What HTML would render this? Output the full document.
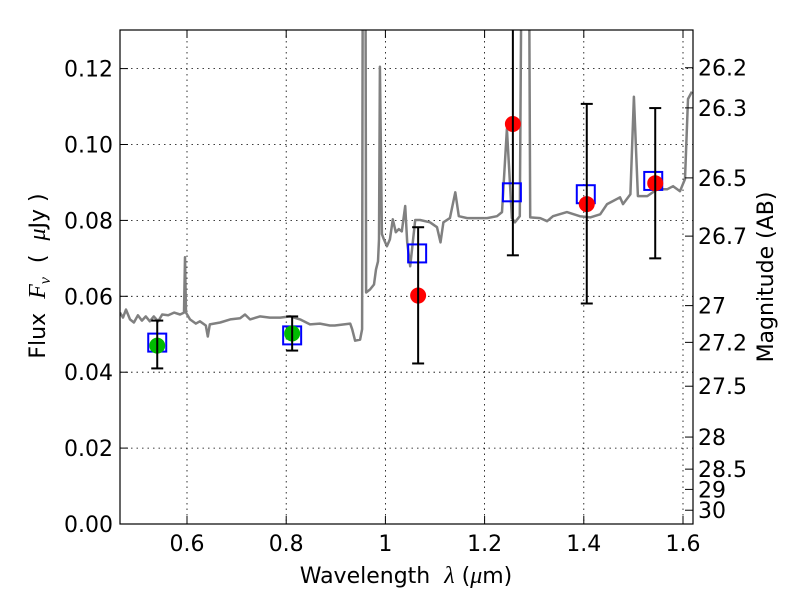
<!DOCTYPE html>
<html><head><meta charset="utf-8"><style>
html,body{margin:0;padding:0;background:#fff;}
svg{display:block;font-family:"DejaVu Sans","Liberation Sans",sans-serif;}
.m{font-family:"Liberation Serif","DejaVu Serif",serif;font-style:italic;}
</style></head><body>
<svg id="chart" width="800" height="600" viewBox="0 0 800 600" xmlns="http://www.w3.org/2000/svg">
<defs><clipPath id="clip"><rect x="120" y="30" width="573" height="494"/></clipPath></defs>
<g id="grid"></g>
<g id="plot" clip-path="url(#clip)"></g>
<rect x="120" y="30" width="573" height="494" fill="none" stroke="#000" stroke-width="1.2"/>
<g id="axes"></g>
<text x="406" y="583" font-size="22" text-anchor="middle" xml:space="preserve">Wavelength  <tspan class="m" font-size="24">λ</tspan> (<tspan class="m" font-size="24">μ</tspan>m)</text>
<text transform="translate(45,276) rotate(-90)" font-size="22" text-anchor="middle" xml:space="preserve">Flux  <tspan class="m" font-size="24">F</tspan><tspan class="m" font-size="16" dy="5">ν</tspan><tspan dy="-5">  (  </tspan><tspan class="m" font-size="24">μ</tspan>Jy )</text>
<text transform="translate(773,277) rotate(-90)" font-size="22" text-anchor="middle">Magnitude (AB)</text>
</svg>
<script>
const specWl=[0.465,0.471,0.477,0.485,0.493,0.501,0.509,0.517,0.525,0.533,0.542,0.550,0.562,0.574,0.586,0.594,0.596,0.598,0.606,0.618,0.626,0.638,0.642,0.646,0.667,0.687,0.707,0.717,0.727,0.747,0.767,0.788,0.808,0.828,0.848,0.868,0.888,0.898,0.929,0.933,0.939,0.949,0.953,0.955,0.959,0.961,0.969,0.977,0.981,0.985,0.987,0.989,0.993,0.997,1.003,1.009,1.015,1.021,1.027,1.033,1.040,1.044,1.050,1.060,1.070,1.090,1.104,1.111,1.117,1.130,1.141,1.148,1.165,1.185,1.205,1.225,1.235,1.245,1.255,1.261,1.271,1.277,1.288,1.292,1.312,1.326,1.338,1.366,1.392,1.413,1.433,1.447,1.459,1.473,1.479,1.494,1.501,1.509,1.528,1.548,1.568,1.580,1.594,1.604,1.610,1.618];
const specFlux=[0.0557,0.0544,0.0565,0.0539,0.0531,0.0550,0.0536,0.0547,0.0534,0.0547,0.0534,0.0552,0.0550,0.0557,0.0552,0.0557,0.0703,0.0557,0.0539,0.0528,0.0534,0.0523,0.0494,0.0526,0.0531,0.0539,0.0542,0.0552,0.0539,0.0547,0.0544,0.0544,0.0547,0.0539,0.0526,0.0528,0.0523,0.0523,0.0528,0.0513,0.0483,0.0486,0.0513,0.20,0.20,0.0610,0.0618,0.0631,0.0671,0.0692,0.0750,0.1205,0.0764,0.0750,0.0732,0.0750,0.0803,0.0769,0.0777,0.0771,0.0838,0.0742,0.0679,0.0801,0.0801,0.0795,0.0782,0.0742,0.0795,0.0806,0.0874,0.0811,0.0806,0.0806,0.0806,0.0811,0.0822,0.1041,0.0806,0.0795,0.0811,0.20,0.20,0.0808,0.0806,0.0798,0.0811,0.0822,0.0811,0.0808,0.0816,0.0843,0.0851,0.0861,0.0843,0.0869,0.1126,0.0864,0.0864,0.0882,0.0882,0.0890,0.0877,0.0909,0.1120,0.1139];
const greenWl=[0.540,0.812];
const greenFlux=[0.0470,0.0502];
const greenLo=[0.0410,0.0457];
const greenHi=[0.0536,0.0547];
const modelWl=[0.540,0.812,1.064,1.255,1.404,1.540];
const modelFlux=[0.0478,0.0497,0.0713,0.0874,0.0869,0.0904];
const redWl=[1.066,1.257,1.406,1.544];
const redFlux=[0.0602,0.1054,0.0843,0.0898];
const redLo=[0.0423,0.0708,0.0581,0.0700];
const redHi=[0.0782,0.135,0.1107,0.1096];
const xTicks=[0.6,0.8,1.0,1.2,1.4,1.6];
const xTickLabels=["0.6","0.8","1","1.2","1.4","1.6"];
const yTicks=[0,0.02,0.04,0.06,0.08,0.10,0.12];
const yTickLabels=["0.00","0.02","0.04","0.06","0.08","0.10","0.12"];
const magTicks=[26.2,26.3,26.5,26.7,27,27.2,27.5,28,28.5,29,30];
const magLabels=["26.2","26.3","26.5","26.7","27","27.2","27.5","28","28.5","29","30"];

const NS="http://www.w3.org/2000/svg";
const X=w=>187+(w-0.6)*496;
const Y=f=>524-f*3795;
function mk(parent,tag,attrs){const e=document.createElementNS(NS,tag);for(const k in attrs)e.setAttribute(k,attrs[k]);parent.appendChild(e);return e;}
const grid=document.getElementById('grid'),plot=document.getElementById('plot'),axes=document.getElementById('axes');

xTicks.forEach((t,i)=>{
  const gl=mk(grid,'line',{x1:X(t),x2:X(t),y1:30,y2:524,stroke:'#000','stroke-width':0.8,'stroke-dasharray':'1.5,4'});
  
  
  mk(axes,'line',{x1:X(t),x2:X(t),y1:524,y2:516,stroke:'#000'});
  mk(axes,'line',{x1:X(t),x2:X(t),y1:30,y2:38,stroke:'#000'});
  const tx=mk(axes,'text',{x:X(t),y:551,'font-size':22,'text-anchor':'middle'});
  tx.textContent=xTickLabels[i];
  
  
});
yTicks.forEach((t,i)=>{
  const gl=mk(grid,'line',{x1:120,x2:693,y1:Y(t),y2:Y(t),stroke:'#000','stroke-width':0.8,'stroke-dasharray':'1.5,4'});
  
  
  mk(axes,'line',{x1:120,x2:128,y1:Y(t),y2:Y(t),stroke:'#000'});
  const tx=mk(axes,'text',{x:113,y:Y(t)+8,'font-size':22,'text-anchor':'end'});
  tx.textContent=yTickLabels[i];
  
  
});
magTicks.forEach((m,i)=>{
  const f=Math.pow(10,(23.9-m)/2.5);
  mk(axes,'line',{x1:693,x2:685,y1:Y(f),y2:Y(f),stroke:'#000'});
  const tx=mk(axes,'text',{x:698,y:Y(f)+8,'font-size':22});
  tx.textContent=magLabels[i];
  
  
});

const pts=specWl.map((w,i)=>X(w).toFixed(1)+','+Y(specFlux[i]).toFixed(1)).join(' ');
const sp=mk(plot,'polyline',{points:pts,fill:'none',stroke:'#808080','stroke-width':2.5,'stroke-linejoin':'round'});



function errbar(w,lo,hi,name){
  const g=mk(plot,'g',{stroke:'#000','stroke-width':2});
  
  
  mk(g,'line',{x1:X(w),x2:X(w),y1:Y(lo),y2:Y(hi)});
  mk(g,'line',{x1:X(w)-6,x2:X(w)+6,y1:Y(lo),y2:Y(lo)});
  mk(g,'line',{x1:X(w)-6,x2:X(w)+6,y1:Y(hi),y2:Y(hi)});
}
modelWl.forEach((w,i)=>{
  const r=mk(plot,'rect',{x:X(w)-9,y:Y(modelFlux[i])-9,width:18,height:18,fill:'none',stroke:'#0000ff','stroke-width':2});
  
  
});
greenWl.forEach((w,i)=>{
  const c=mk(plot,'circle',{cx:X(w),cy:Y(greenFlux[i]),r:8,fill:'#00bb00'});
  
  
  errbar(w,greenLo[i],greenHi[i],'green-error-bar');
});
redWl.forEach((w,i)=>{
  const c=mk(plot,'circle',{cx:X(w),cy:Y(redFlux[i]),r:8,fill:'#ff0000'});
  
  
  errbar(w,redLo[i],redHi[i],'red-error-bar');
});
</script>
</body></html>
